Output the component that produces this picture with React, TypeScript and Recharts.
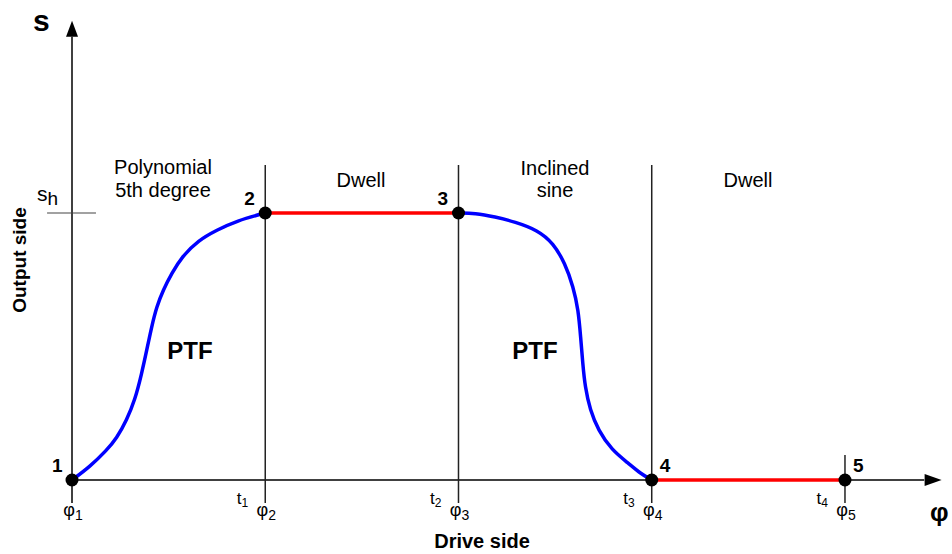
import { ComposedChart, Line, Scatter, XAxis, YAxis, ReferenceLine } from "recharts";

// drive angle phi in segment units (phi1 = 0 ... phi5 = 4), stroke s relative to s_h
const phiTicks = [0, 1, 2, 3, 4];
const phiSubs = ["1", "2", "3", "4", "5"];
const tSubs = ["", "1", "2", "3", "4"];

// polynomial 5th degree rise, phi1 -> phi2
const polyX = [0, 0.093, 0.18, 0.231, 0.283, 0.326, 0.361, 0.387, 0.412, 0.438, 0.472, 0.516, 0.568, 0.654, 0.749, 0.852, 1];
const polyS = [0, 0.05, 0.112, 0.156, 0.225, 0.3, 0.4, 0.487, 0.574, 0.649, 0.712, 0.774, 0.836, 0.898, 0.936, 0.971, 1];

// inclined sine return, phi3 -> phi4
const sineX = [2, 2.085, 2.189, 2.292, 2.41, 2.491, 2.551, 2.594, 2.62, 2.632, 2.643, 2.655, 2.681, 2.723, 2.793, 2.879, 2.94, 3];
const sineS = [1, 1, 0.986, 0.967, 0.936, 0.887, 0.812, 0.724, 0.637, 0.537, 0.437, 0.349, 0.262, 0.187, 0.112, 0.063, 0.025, 0];

// dwells
const dwell1X = [1, 2];
const dwell1S = [1, 1];
const dwell2X = [3, 4];
const dwell2S = [0, 0];

// section points 1..5
const pointX = [0, 1, 2, 3, 4];
const pointS = [0, 1, 1, 0, 0];
const pointNames = ["1", "2", "3", "4", "5"];

const X_MAX = 4.5;
const S_MAX = 1.72;

const zip = (xs: number[], ys: number[]) => xs.map((x, i) => ({ x, s: ys[i] }));

const FONT = "'Liberation Sans', Arial, sans-serif";
const LINE_COLOR = "#222";

function PhiTick(props: any) {
  const { x, index } = props;
  return (
    <g fontFamily={FONT} fill="#000">
      <text x={x + 1} y={516} textAnchor="middle" fontSize={18}>
        φ<tspan fontSize={14} dy={4}>{phiSubs[index]}</tspan>
      </text>
      {tSubs[index] && (
        <text x={x - 17} y={504} textAnchor="end" fontSize={17}>
          t<tspan fontSize={12} dy={3}>{tSubs[index]}</tspan>
        </text>
      )}
    </g>
  );
}

function ArrowRight(props: any) {
  const { cx, cy } = props;
  return <path d={`M${cx},${cy} L${cx - 17},${cy - 6} L${cx - 17},${cy + 6} Z`} fill="#000" />;
}

function ArrowUp(props: any) {
  const { cx, cy } = props;
  return <path d={`M${cx},${cy} L${cx - 6},${cy + 16} L${cx + 6},${cy + 16} Z`} fill="#000" />;
}

function PointLabel(props: any) {
  const { cx, cy, index } = props;
  const dx = [-20, -21, -21, 8, 8][index];
  return (
    <g>
      <circle cx={cx} cy={cy} r={6.5} fill="#000" />
      <text x={cx + dx} y={cy - 8} fontFamily={FONT} fontWeight="bold" fontSize={19} fill="#000">
        {pointNames[index]}
      </text>
    </g>
  );
}

export default function App() {
  return (
    <div style={{ position: "absolute", left: 0, top: 0, width: 952, height: 554, background: "#fff" }}>
      <ComposedChart width={952} height={554} margin={{ top: 20.8, right: 10.4, bottom: 0, left: 0 }}>
        <XAxis
          type="number"
          dataKey="x"
          domain={[0, X_MAX]}
          ticks={phiTicks}
          axisLine={false}
          tickLine={false}
          height={74}
          tick={<PhiTick />}
        />
        <YAxis type="number" dataKey="s" domain={[0, S_MAX]} width={72} tick={false} axisLine={false} tickLine={false} />

        <ReferenceLine segment={[{ x: 0, y: -0.086 }, { x: 0, y: 1.66 }]} stroke="#000" strokeWidth={1.5} ifOverflow="visible" />
        <ReferenceLine segment={[{ x: 0, y: 0 }, { x: 3, y: 0 }]} stroke="#000" strokeWidth={1.5} ifOverflow="visible" />
        <ReferenceLine segment={[{ x: 4, y: 0 }, { x: 4.41, y: 0 }]} stroke="#000" strokeWidth={1.5} ifOverflow="visible" />
        <ReferenceLine segment={[{ x: 1, y: -0.086 }, { x: 1, y: 1.18 }]} stroke={LINE_COLOR} strokeWidth={1.5} ifOverflow="visible" />
        <ReferenceLine segment={[{ x: 2, y: -0.086 }, { x: 2, y: 1.18 }]} stroke={LINE_COLOR} strokeWidth={1.5} ifOverflow="visible" />
        <ReferenceLine segment={[{ x: 3, y: -0.086 }, { x: 3, y: 1.18 }]} stroke={LINE_COLOR} strokeWidth={1.5} ifOverflow="visible" />
        <ReferenceLine segment={[{ x: 4, y: -0.086 }, { x: 4, y: 0.094 }]} stroke={LINE_COLOR} strokeWidth={1.5} ifOverflow="visible" />
        <ReferenceLine segment={[{ x: -0.129, y: 1 }, { x: 0.124, y: 1 }]} stroke="#444" strokeWidth={1.2} ifOverflow="visible" />

        <Line data={zip(polyX, polyS)} dataKey="s" type="basis" stroke="#0000ff" strokeWidth={3.5} dot={false} isAnimationActive={false} />
        <Line data={zip(sineX, sineS)} dataKey="s" type="basis" stroke="#0000ff" strokeWidth={3.5} dot={false} isAnimationActive={false} />
        <Line data={zip(dwell1X, dwell1S)} dataKey="s" type="linear" stroke="#ff0000" strokeWidth={3.5} dot={false} isAnimationActive={false} />
        <Line data={zip(dwell2X, dwell2S)} dataKey="s" type="linear" stroke="#ff0000" strokeWidth={3.5} dot={false} isAnimationActive={false} />

        <Scatter data={[{ x: X_MAX, s: 0 }]} dataKey="s" shape={<ArrowRight />} isAnimationActive={false} />
        <Scatter data={[{ x: 0, s: S_MAX }]} dataKey="s" shape={<ArrowUp />} isAnimationActive={false} />
        <Scatter data={zip(pointX, pointS)} dataKey="s" shape={<PointLabel />} isAnimationActive={false} />

        <g fontFamily={FONT} fill="#000">
          <text x={33} y={31} fontSize={30} fontWeight="bold">s</text>
          <text x={930} y={521} fontSize={26} fontWeight="bold">φ</text>
          <text x={0} y={0} fontSize={19} fontWeight="bold" textAnchor="middle" transform="translate(26,260) rotate(-90)">Output side</text>
          <text x={482} y={548} fontSize={20} fontWeight="bold" textAnchor="middle">Drive side</text>
          <text x={37} y={201} fontSize={21}>s<tspan fontSize={19} dy={4}>h</tspan></text>
          <text x={163} y={174} fontSize={20} textAnchor="middle">Polynomial</text>
          <text x={163} y={197} fontSize={20} textAnchor="middle">5th degree</text>
          <text x={361} y={187} fontSize={20} textAnchor="middle">Dwell</text>
          <text x={555} y={175} fontSize={20} textAnchor="middle">Inclined</text>
          <text x={555} y={197} fontSize={20} textAnchor="middle">sine</text>
          <text x={748} y={187} fontSize={20} textAnchor="middle">Dwell</text>
          <text x={190} y={359} fontSize={24} fontWeight="bold" textAnchor="middle">PTF</text>
          <text x={535} y={359} fontSize={24} fontWeight="bold" textAnchor="middle">PTF</text>
        </g>
      </ComposedChart>
    </div>
  );
}
